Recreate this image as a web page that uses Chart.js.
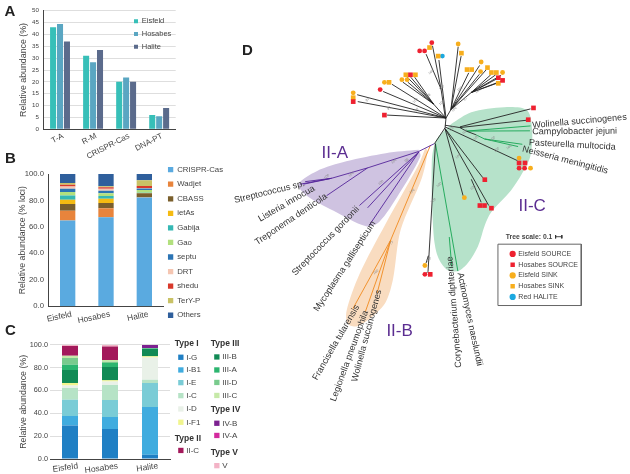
<!DOCTYPE html>
<html>
<head>
<meta charset="utf-8">
<script src="https://cdn.jsdelivr.net/npm/chart.js@4"></script>
<style>
html,body{margin:0;padding:0;background:#fff;width:630px;height:474px;overflow:hidden}
canvas{position:absolute}
</style>
</head>
<body>
<canvas id="panelA" style="left:0;top:0"></canvas>
<canvas id="panelB" style="left:0;top:155px"></canvas>
<canvas id="panelC" style="left:0;top:335px"></canvas>
<canvas id="panelD" style="left:0;top:0"></canvas>
<script>
// ---------- Panel A ----------
const defenseCategories = ['T-A','R-M','CRISPR-Cas','DNA-PT'];
const eisfeldDefense = [43,31,20,6];
const hosabesDefense = [44.4,28.3,21.8,5.5];
const haliteDefense  = [37,33.4,20,9];
const siteNames = ['Eisfeld','Hosabes','Halite'];

// ---------- Panel B ----------
const systemNames = ['CRISPR-Cas','Wadjet','CBASS','ietAs','Gabija','Gao','septu','DRT','shedu','TerY-P','Others'];
const systemColors = ['#5aaae0','#e8843c','#7a5f2c','#f5bb12','#35b8b4','#b2e07e','#2b74b4','#f5c6b2','#d8392b','#c9c266','#2f5f9c'];
const eisfeldSystems = [64.9,7.3,5.1,3.3,3.2,2.6,2.5,1.7,1.3,1.3,6.8];
const hosabesSystems = [67.4,6.8,3.8,3.3,2.0,2.1,2.0,1.5,1.0,0.8,9.3];
const haliteSystems  = [82.3,0.2,2.9,0.2,0.2,2.1,1.2,0.4,1.4,4.3,4.8];

// ---------- Panel C ----------
const subtypeNames = ['I-G','I-B1','I-E','I-C','I-D','I-F1','III-B','III-A','III-D','III-C','IV-B','IV-A','II-C','V'];
const subtypeColors = ['#1f7fc4','#40acdf','#7accd6','#b6e3c6','#e9f1e8','#f1f58e','#118a55','#2cb56f','#79cb8d','#c6e9a8','#7c2190','#d42a9e','#a3195b','#f3b3c6'];
const eisfeldSubtypes = [29.2,8.4,14.3,10.2,2.3,2.1,11.3,4.7,5.8,2.1,0,0,8.4,1.2];
const hosabesSubtypes = [26.2,10.5,14.9,13.1,3.2,0.9,11.7,3.5,1.0,1.6,0,0,11.9,1.5];
const haliteSubtypes  = [3.8,41.7,21.0,2.9,19.5,1.1,6.5,0.5,0.1,0.1,2.6,0,0,0.2];
const subtypeGroupsLeft  = [['Type I',['I-G','I-B1','I-E','I-C','I-D','I-F1']],['Type II',['II-C']]];
const subtypeGroupsRight = [['Type III',['III-B','III-A','III-D','III-C']],['Type IV',['IV-B','IV-A']],['Type V',['V']]];

// ---------- Panel D : tree tips (x, y in tree units) ----------
const eisfeldSourceTips = [[433.3,39.3],[421,47.7],[426,47.7],[381,87],[521.7,167],[527.3,167],[426.3,275]];
const hosabesSourceTips = [[411.7,72],[500.7,75],[505,77.7],[353.7,99.3],[385.3,113],[536.3,105.7],[531,117.7],[521.7,161.7],[527.7,161.7],[487,178.7],[482,205],[486.7,205],[493.7,207.7],[431.7,275]];
const eisfeldSinkTips = [[460,40.7],[483.3,59],[482.7,68.7],[505,69.7],[403,77],[408.3,77],[385.3,79.7],[353.7,90.3],[521.7,156.7],[533.3,167],[466.3,197],[426.3,266]];
const hosabesSinkTips = [[431,44.3],[439.7,53],[463.3,50],[469,66.7],[473.7,66.7],[489.7,64.7],[493.7,69.7],[498.7,69.7],[500.7,80.7],[407,72],[416.7,72],[390,79.7],[353.7,95.3]];
const redHaliteTips = [[444,53]];

const blackBranches = [
 [447.7,116,446.7,126],[446.7,126,436,142],
 [447.7,116,440.5,57],[447,116,442.7,86.7],[442.7,86.7,427.5,51],[442.7,86.7,434,42.5],
 [447.7,116,452.7,107.3],[452.7,107.3,460,43.5],[452.7,107.3,463,53],[452.7,107.3,481.7,62.5],
 [452.7,107.3,470.7,70],[452.7,107.3,488.3,67],[452.7,107.3,481.5,71.5],[452.7,107.3,473.3,90],
 [473.3,90,493,72],[473.3,90,498,72],[473.3,90,503.5,72.5],[473.3,90,499.5,76],[473.3,90,503.5,78.5],[473.3,90,499.5,80.5],
 [447.7,116,388,113],[447.7,116,435,101.7],[435,101.7,404,79.5],[435,101.7,409,79.5],[435,101.7,408.5,74.5],[435,101.7,412,74.5],[435,101.7,416,74.5],
 [447.7,116,384,89],[447.7,116,393,81.7],[447.7,116,357.7,92.3],[447.7,116,358.3,99.3],
 [446.7,123.3,461.7,125.7],[461.7,125,533.3,106.7],[461.7,125.7,528.7,118.3],[461.7,125.7,468.3,129.3],[468.3,129.3,478,133],
 [446.7,125,520,159.3],[446.7,126.7,485,176.7],[446.7,126.7,465,195],[446.7,126.7,491,205],[473.3,178.3,483.3,201.7],
 [437,142,429.5,272],[429.8,256,427.5,263.5],[429.5,272,427.5,274]
];
const greenBranches = [
 [468.3,129.3,533.3,124],[468.3,129.3,532.7,129],[478,133,486.7,137.3],[486.7,137.3,525,142.7],[486.7,137.3,520.7,145],
 [437,142,459.7,271.7],[451,237,453.5,267]
];
const purpleBranches = [
 [436,142,420,150],[420,150,368.3,166.7],[368.3,166.7,331.7,177.3],[331.7,177.3,305,180.7],[331.7,177.3,303.3,183.3],[331.7,177.3,300,183.3],
 [368.3,166.7,326.7,195],[420,150.7,360,205],[420,150.7,368.3,207.3],[420,150.7,370,225]
];
const orangeBranches = [
 [432,143.5,391.7,240],[391.7,240,353.3,310],[391.7,240,366,313],[391.7,240,378,294]
];
const scaleBar = [[558.7,236.7,565,236.7],[558.7,235,558.7,238.4],[565,235,565,238.4]];
const legendFrame = [[500.3,244.3],[584.7,244.3],[584.7,306.7],[500.3,306.7],[500.3,244.3]];

const hullIIA = [[420,148.3],[386.7,151.7],[346.7,160],[316.7,170],[298.3,183.3],[306.7,195],[333.3,210],[366.7,226],[380,221.7],[400,193.3],[421.7,155],[420,148.3]];
const hullIIB = [[427,146],[420,163.3],[386.7,223.3],[360,275],[347,312],[348,325],[356.7,328],[373,318],[386.7,303],[394,280],[401.7,230],[423.3,176.7],[429,150],[427,146]];
const hullIIC = [[453.3,121.7],[473.3,110],[506.7,105],[530,108.3],[535,130],[533,155],[525,172],[513.3,190],[493.3,212],[487,225],[480,246.7],[470,263.3],[460,271.7],[448.3,270],[439.3,256.7],[435,233],[433.3,160],[438,138],[453.3,121.7]];

const speciesLabels = ['Wolinella succinogenes','Campylobacter jejuni','Pasteurella multocida','Neisseria meningitidis','Streptococcus sp.','Listeria innocua','Treponema denticola','Streptococcus gordonii','Mycoplasma gallisepticum','Francisella tularensis','Legionella pneumophila','Wolinella succinogenes','Corynebacterium diphteriae','Actinomyces naeslundii'];
const speciesAnchors = [[535,123.5,-5],[535,130,-0.5],[531.7,141,3],[525,147.3,14.7],[233.3,200,-13.7],[258.3,219.3,-30],[255,243.3,-34],[293.3,275,-46],[316,312,-57],[314.7,382,-60],[333.3,404,-70],[355,384,-75],[460.7,370,-94.6],[461.7,273.3,78]];
const cladeLabels = ['II-A','II-B','II-C'];
const cladeAnchors = [[335,152],[400.7,333],[535,205.7]];
const supportValues = [[432.7,69.3,'100'],[430,93,'98'],[443.3,85,'100'],[443.3,100.7,'100'],[461.7,86.7,'100'],[467.3,96.7,'97'],[480,88.3,'100'],[456,107.3,'100'],[417.3,108.3,'100'],[390,106,'97'],[416.7,98.3,'100'],[368.3,97.3,'97'],[453.3,126.7,'100'],[466.7,130,'100'],[478.3,136,'100'],[495,137.3,'100'],[511.7,145.7,'100'],[499,148.3,'100'],[460,155,'100'],[475,186.7,'100'],[440.7,184,'100'],[435,200,'100'],[395,160,'100'],[407.7,159,'98'],[381.7,181.7,'100'],[351.7,173.3,'100'],[326.7,175.7,'100'],[413.3,190.7,'100'],[392.7,243,'77'],[376.7,272.7,'100'],[430,260,'100']];

// ---------- shared ----------
const FONT = '"Liberation Sans", Arial, sans-serif';
Chart.defaults.font.family = FONT;
Chart.defaults.color = '#444';
Chart.defaults.animation = false;
Chart.defaults.responsive = false;
Chart.defaults.devicePixelRatio = 1;

const placeLegend = {
  id:'placeLegend',
  afterLayout(chart, args, opts){
    const lg = chart.legend;
    if(!lg || opts.x === undefined) return;
    lg.maxHeight = 460; lg.maxWidth = 300;
    lg.fit();
    lg.left = opts.x; lg.top = opts.y;
    lg.right = lg.left + lg.width; lg.bottom = lg.top + lg.height;
    lg.adjustHitBoxes();
  }
};
Chart.register(placeLegend);

function sizeCanvas(id,w,h){const c=document.getElementById(id);c.width=w;c.height=h;c.style.width=w+'px';c.style.height=h+'px';return c;}

// ---------- A ----------
new Chart(sizeCanvas('panelA',200,160),{
  type:'bar',
  data:{labels:defenseCategories,datasets:[
    {label:siteNames[0],data:eisfeldDefense,backgroundColor:'#37bfb8'},
    {label:siteNames[1],data:hosabesDefense,backgroundColor:'#5aa6c2'},
    {label:siteNames[2],data:haliteDefense,backgroundColor:'#5b6b8c'}]},
  options:{
    layout:{padding:{top:10.7,right:24.3,left:0,bottom:0}},
    datasets:{bar:{categoryPercentage:0.63,barPercentage:0.87}},
    scales:{
      x:{grid:{display:false,drawTicks:false},border:{color:'#444'},
         afterFit(s){s.height=160-129.3;},
         ticks:{font:{size:8},minRotation:27,maxRotation:27,padding:2,labelOffset:3,autoSkip:false,color:'#444'}},
      y:{min:0,max:50,afterFit(s){s.width=43.5;},
         grid:{color:'#dedede',drawTicks:false},border:{color:'#444'},
         ticks:{stepSize:5,font:{size:6.2},padding:4.5,color:'#444'},
         title:{display:true,text:'Relative abundance (%)',font:{size:8.8},color:'#444',padding:{top:18,bottom:0}}}
    },
    plugins:{
      tooltip:{enabled:false},
      legend:{position:'chartArea',align:'start',labels:{boxWidth:4,boxHeight:4,font:{size:7.5},padding:5.2,color:'#444'}},
      placeLegend:{x:128.8,y:12.3}
    }
  }
});

// ---------- B ----------
new Chart(sizeCanvas('panelB',240,180),{
  type:'bar',
  data:{labels:siteNames,datasets:systemNames.map((n,i)=>({label:n,data:[eisfeldSystems[i],hosabesSystems[i],haliteSystems[i]],backgroundColor:systemColors[i]}))},
  options:{
    layout:{padding:{top:19,right:76.5,left:0,bottom:0}},
    datasets:{bar:{categoryPercentage:1,barPercentage:0.4}},
    scales:{
      x:{stacked:true,grid:{display:false,drawTicks:false},border:{color:'#444'},
         afterFit(s){s.height=180-151.3;},
         ticks:{font:{size:8.4},minRotation:12,maxRotation:12,padding:3,labelOffset:4,autoSkip:false,color:'#444'}},
      y:{stacked:true,min:0,max:100,afterFit(s){s.width=48.5;},
         grid:{display:false,drawTicks:false},border:{color:'#444'},
         ticks:{stepSize:20,font:{size:7.7},padding:4.5,color:'#444',callback:v=>v.toFixed(1)},
         title:{display:true,text:'Relative abundance (% loci)',font:{size:8.7},color:'#444',padding:{top:17.5,bottom:0}}}
    },
    plugins:{
      tooltip:{enabled:false},
      legend:{position:'chartArea',align:'start',labels:{boxWidth:5.3,boxHeight:5.3,font:{size:7.8},padding:6.76,color:'#444'}},
      placeLegend:{x:161.2,y:4}
    }
  }
});

// ---------- C ----------
const groupedLegend = {
  id:'groupedLegend',
  afterDraw(chart,args,opts){
    const ctx = chart.ctx, top = 335;
    ctx.save();
    ctx.textBaseline='middle'; ctx.textAlign='left';
    for(const col of opts.columns){
      let slot = 0;
      for(const [head,names] of col.groups){
        const yh = col.rows[slot++];
        ctx.font='bold 8.5px '+FONT; ctx.fillStyle='#333';
        ctx.fillText(head,col.x,yh-top);
        for(const n of names){
          const y = col.rows[slot++];
          ctx.fillStyle = subtypeColors[subtypeNames.indexOf(n)];
          ctx.fillRect(col.x+3.5,y-top-2.7,5.3,5.3);
          ctx.fillStyle='#444'; ctx.font='8px '+FONT;
          ctx.fillText(n,col.x+11.5,y-top);
        }
      }
    }
    ctx.restore();
  }
};
new Chart(sizeCanvas('panelC',250,139),{
  type:'bar',
  plugins:[groupedLegend],
  data:{labels:siteNames,datasets:subtypeNames.map((n,i)=>({label:n,data:[eisfeldSubtypes[i],hosabesSubtypes[i],haliteSubtypes[i]],backgroundColor:subtypeColors[i]}))},
  options:{
    layout:{padding:{top:9.7,right:80,left:0,bottom:0}},
    datasets:{bar:{categoryPercentage:1,barPercentage:0.4}},
    scales:{
      x:{stacked:true,grid:{display:false,drawTicks:false},border:{color:'#444'},
         afterFit(s){s.height=139-124;},
         ticks:{font:{size:8.5},minRotation:8,maxRotation:8,padding:2,labelOffset:8,autoSkip:false,color:'#444'}},
      y:{stacked:true,min:0,max:100,afterFit(s){s.width=50;},
         grid:{color:'#dedede',drawTicks:false},border:{display:false},
         ticks:{stepSize:20,font:{size:7.3},padding:2,color:'#444',callback:v=>v.toFixed(1)},
         title:{display:true,text:'Relative abundance (%)',font:{size:8.8},color:'#444',padding:{top:18,bottom:0}}}
    },
    plugins:{
      tooltip:{enabled:false},legend:{display:false},
      groupedLegend:{columns:[
        {x:174.7,groups:subtypeGroupsLeft,rows:[344,357.3,370,382.7,395.7,409,422.3,438.7,450.5]},
        {x:210.7,groups:subtypeGroupsRight,rows:[344,357,370,382.5,395.5,409.3,423.3,435.5,452.7,465.7]}
      ]}
    }
  }
});

// ---------- D ----------
const pts = a => a.map(([x,y])=>({x,y}));
const segs = a => a.flatMap(([x0,y0,x1,y1])=>[{x:x0,y:y0},{x:x1,y:y1},{x:null,y:null}]);
const lineSet = (label,data,color,width) => ({type:'line',label,data,borderColor:color,borderWidth:width,pointRadius:0,fill:false,tension:0,spanGaps:false});
const hullSet = (label,data,color) => ({type:'line',label,data:pts(data),borderWidth:0,borderColor:'transparent',backgroundColor:color,pointRadius:0,tension:0.3,fill:'shape'});
const tipSet = (label,data,color,style,r) => ({type:'scatter',label,data:pts(data),backgroundColor:color,borderColor:color,borderWidth:0,pointStyle:style,pointRadius:r,showLine:false});

const treeText = {
  id:'treeText',
  afterDatasetsDraw(chart){
    const ctx = chart.ctx, X = chart.scales.x, Y = chart.scales.y;
    const put = (t,x,y,rot,font,color,align='left',base='middle')=>{
      ctx.save(); ctx.translate(X.getPixelForValue(x),Y.getPixelForValue(y)); ctx.rotate(rot*Math.PI/180);
      ctx.font=font; ctx.fillStyle=color; ctx.textAlign=align; ctx.textBaseline=base; ctx.fillText(t,0,0); ctx.restore();
    };
    supportValues.forEach(([x,y,t])=>put(t,x,y,-40,'3.5px '+FONT,'#8a8a8a','center'));
    speciesLabels.forEach((t,i)=>{const [x,y,r]=speciesAnchors[i];put(t,x,y,r,'9.1px '+FONT,'#333');});
    cladeLabels.forEach((t,i)=>{const [x,y]=cladeAnchors[i];put(t,x,y,0,'17px '+FONT,'#5b2d91','center');});
    put('Tree scale: 0.1',508.3,236.7,0,'bold 6.8px '+FONT,'#444');
    put('A',0.5,12.5,0,'bold 15px '+FONT,'#222','left','alphabetic');
    put('B',1,162,0,'bold 15px '+FONT,'#222','left','alphabetic');
    put('C',1,336.5,0,'bold 15px '+FONT,'#222','left','alphabetic');
    put('D',241,52,0,'bold 15px '+FONT,'#222','left','alphabetic');
  }
};
new Chart(sizeCanvas('panelD',630,474),{
  type:'scatter',
  plugins:[treeText],
  data:{datasets:[
    tipSet('Eisfeld SOURCE',eisfeldSourceTips,'#ee2130','circle',2.4),
    tipSet('Hosabes SOURCE',hosabesSourceTips,'#ee2130','rect',3.3),
    tipSet('Eisfeld SINK',eisfeldSinkTips,'#f7ae1d','circle',2.4),
    tipSet('Hosabes SINK',hosabesSinkTips,'#f7ae1d','rect',3.3),
    tipSet('Red HALITE',redHaliteTips,'#1ba8e0','circle',2.4),
    lineSet('frame',pts(legendFrame),'#666',1),
    lineSet('scale',segs(scaleBar),'#333',0.9),
    lineSet('black',segs(blackBranches),'#222',0.9),
    lineSet('green',segs(greenBranches),'#16a552',0.9),
    lineSet('purple',segs(purpleBranches),'#55259a',0.9),
    lineSet('orange',segs(orangeBranches),'#f08a1e',0.9),
    hullSet('II-A',hullIIA,'#cfc3e1'),
    hullSet('II-B',hullIIB,'#f9dcc0'),
    hullSet('II-C',hullIIC,'#b6e2ca')
  ]},
  options:{
    layout:{padding:0},
    scales:{
      x:{type:'linear',min:0,max:630,display:false},
      y:{type:'linear',min:0,max:474,reverse:true,display:false}
    },
    plugins:{
      tooltip:{enabled:false},
      legend:{position:'chartArea',align:'start',
        labels:{usePointStyle:true,boxWidth:4.4,boxHeight:4.4,font:{size:7},padding:3.75,color:'#444',
                filter:i=>i.datasetIndex<5}},
      placeLegend:{x:506.7,y:246.7}
    }
  }
});
</script>
</body>
</html>
